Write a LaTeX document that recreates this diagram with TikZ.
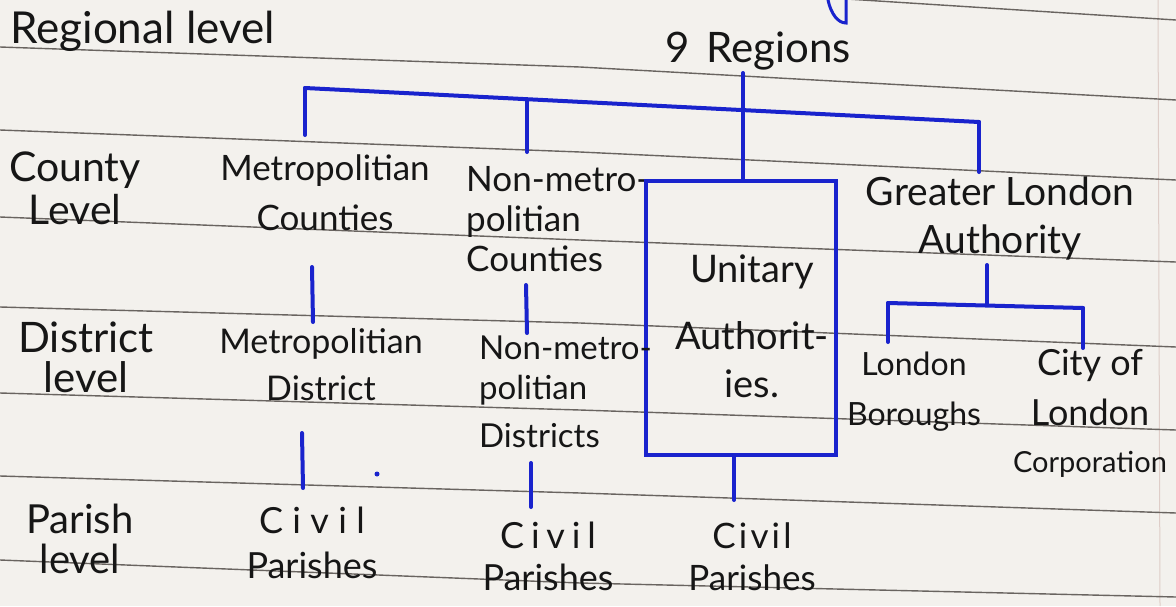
\documentclass[tikz,border=0pt]{standalone}
\usepackage{fontspec}
\setmainfont{Lato}
\definecolor{paper}{RGB}{243,241,237}
\definecolor{ink}{RGB}{22,22,22}
\definecolor{pen}{RGB}{25,35,205}
\definecolor{rulecol}{RGB}{105,100,96}
\definecolor{margincol}{RGB}{222,205,200}
\newcommand{\fs}[2]{\fontsize{#1}{#2}\selectfont}
\newcommand{\spaced}[2]{{\addfontfeature{LetterSpace=#1}#2}}
\begin{document}
\begin{tikzpicture}[x=1pt,y=-1pt,
  lbl/.style={inner sep=0pt, text=ink, align=center},
  conn/.style={draw=pen, line width=4pt, line cap=round, line join=round},
  boxstyle/.style={draw=pen, line width=4pt, inner sep=0pt, minimum width=190pt, minimum height=274pt},
  ruled/.style={draw=rulecol, line width=1.4pt}]
\fill[paper] (0,0) rectangle (1176,606);
\useasboundingbox (0,0) rectangle (1176,606);
% ruled paper
\draw[margincol, line width=1pt] (1158,0) -- (1160,606);
\foreach \a/\b/\c in {-38/-18/20, 47/67/100, 130/152/180, 217/240/262, 307/323/347, 393/410/430, 476/493/513, 560/583/597}
  \draw[ruled] (0,\a) -- (580,\b) -- (1176,\c);
% fragment of writing above the page edge
\draw[pen, line width=3pt, line cap=round] (828,0) .. controls (831,14) and (838,23) .. (846,23) -- (846,0);

% labels
\node[lbl, anchor=base west, font=\fs{44}{50}] (reg) at (10,43) {Regional level};
\node[lbl, anchor=base west, font=\fs{42}{50}] (nine) at (665,62) {9\hspace{6pt} Regions};

\node[lbl, anchor=north, font=\fs{41}{43}] (cl) at (75,152) {County\\Level};
\node[lbl, anchor=north, font=\fs{35}{50}] (mc) at (325,155) {Metropolitian\\Counties};
\node[lbl, anchor=north west, align=left, font=\fs{35}{40}] (nc) at (466,166) {Non-metro-\\politian\\Counties};
\node[boxstyle] (ua) at (741,318) {};
\node[lbl, anchor=north, font=\fs{38}{55}] (uat) at (752,255) {Unitary\\[12pt]Authorit-\\[-7pt]ies.};
\node[lbl, anchor=north, font=\fs{39}{48}] (gla) at (1000,177) {Greater London\\Authority};

\node[lbl, anchor=north, font=\fs{42}{40}] (dl) at (86,322) {District\\level};
\node[lbl, anchor=north, font=\fs{34}{47}] (md) at (321,328) {Metropolitian\\District};
\node[lbl, anchor=north west, align=left, font=\fs{33}{40}] (nd) at (479,336) {Non-metro-\\politian\\[8pt]Districts};
\node[lbl, anchor=north, font=\fs{32}{50}] (lb) at (914,352) {London\\Boroughs};
\node[lbl, anchor=north, font=\fs{36}{50}] (cp) at (1090,349) {City of\\London\\[-3pt]{\fs{29}{30}Corporation}};

\node[lbl, anchor=north, font=\fs{40}{40}] (pl) at (80,504) {Parish\\level};
\node[lbl, anchor=north, font=\fs{36}{45}] (cv1) at (312,507) {\spaced{26}{Civil}\hspace{14pt}\\Parishes};
\node[lbl, anchor=north, font=\fs{36}{42}] (cv2) at (548,522) {\spaced{19}{Civil}\hspace{22pt}\\Parishes};
\node[lbl, anchor=north, font=\fs{35}{42}] (cv3) at (752,523) {\spaced{9}{Civil}\hspace{26pt}\\Parishes};

% tree connectors
\coordinate (b0) at (743,73);
\coordinate (b1) at (305,88);
\coordinate (b2) at (527,100);
\coordinate (b4) at (979,122);
\draw[conn] (b1) -- (b4);
\draw[conn] (b1) -- ++(0,47);
\draw[conn] (b2) -- ++(0,52);
\draw[conn] (b4) -- ++(0,50);
\draw[conn] (b0) -- (ua.north -| b0);

\coordinate (m1) at (312,267);
\coordinate (m2) at (313,322);
\draw[conn] (m1) -- (m2);
\coordinate (n1) at (526,285);
\coordinate (n2) at (527,333);
\draw[conn] (n1) -- (n2);
\coordinate (m3) at (302,433);
\coordinate (m4) at (303,488);
\draw[conn] (m3) -- (m4);
\coordinate (n3) at (531,463);
\coordinate (n4) at (531,507);
\draw[conn] (n3) -- (n4);
\fill[pen] (377,474) circle (2.5pt);

\coordinate (u1) at ([xshift=-7pt]ua.south);
\draw[conn] (u1) -- ++(0,43);

\coordinate (g0) at (987,265);
\coordinate (g1) at (888,303);
\coordinate (g2) at (1083,308);
\draw[conn] (g0) -- ++(0,40);
\draw[conn] (g1) -- (g2);
\draw[conn] (g1) -- ++(0,39);
\draw[conn] (g2) -- ++(0,40);
\end{tikzpicture}
\end{document}
